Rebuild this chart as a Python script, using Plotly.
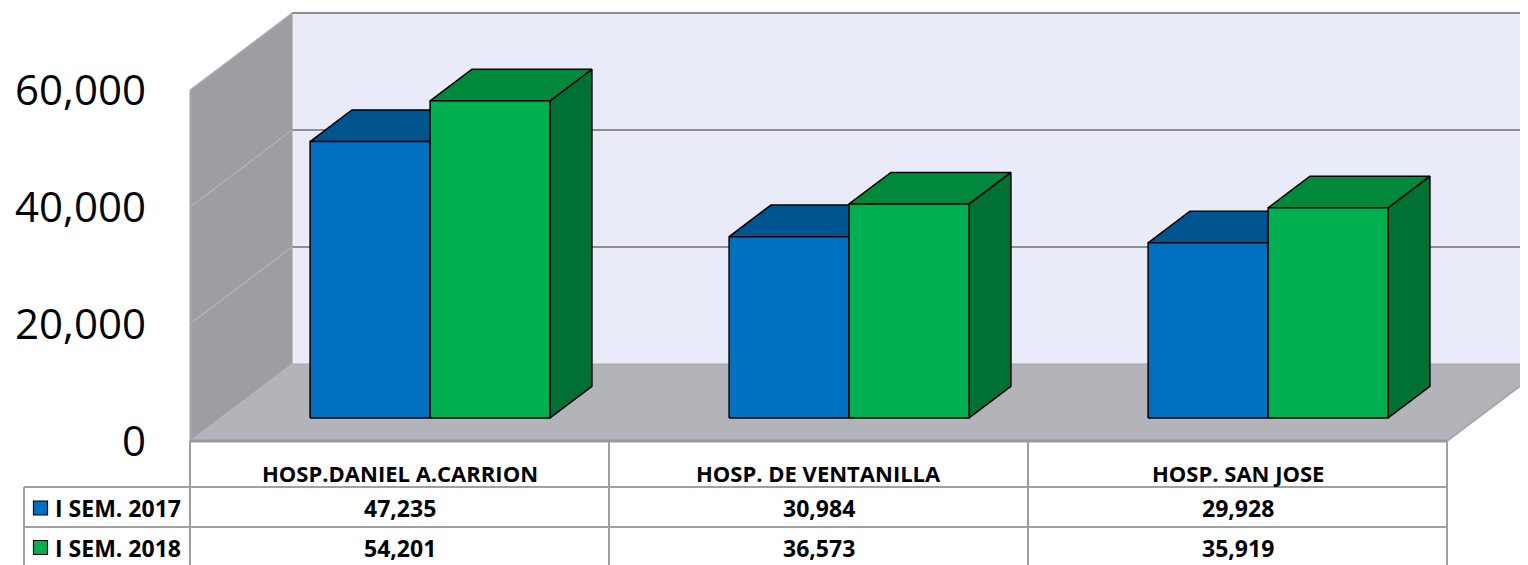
import plotly.graph_objects as go

# ---------------- data ----------------
categories = ["HOSP.DANIEL A.CARRION", "HOSP. DE VENTANILLA", "HOSP. SAN JOSE"]
series_names = ["I SEM. 2017", "I SEM. 2018"]
sem_2017 = [47235, 30984, 29928]
sem_2018 = [54201, 36573, 35919]
y_ticks = [0, 20000, 40000, 60000]

# ---------------- style / geometry ----------------
PAGE_OFF = 8              # default body margin of the html page
W, H = 1528 - PAGE_OFF, 565 - PAGE_OFF
PX_CAT = 419.0            # pixels per category on the front plane
PX_VAL = 351.0 / 60000.0  # pixels per value unit
REF_X0, REF_Y0 = 190.0, 441.0          # front-plane origin in screen pixels
X0_PX, Y0_PX = REF_X0 - PAGE_OFF, REF_Y0 - PAGE_OFF
DX = 102.0 / PX_CAT       # depth offset (x, in category units)
DY = 77.0 / PX_VAL        # depth offset (y, in value units)
Y_MAX = y_ticks[-1]
T_FRONT, T_BACK = 0.30, 0.71
BAR_OFF, BAR_W = 0.2136, 0.2864

x_range = [-X0_PX / PX_CAT, (W - X0_PX) / PX_CAT]
y_range = [(Y0_PX - H) / PX_VAL, Y0_PX / PX_VAL]


def sx(px):   # screen pixel -> x data
    return (px - REF_X0) / PX_CAT


def sy(py):   # screen pixel -> y data
    return (REF_Y0 - py) / PX_VAL


series_vals = [sem_2017, sem_2018]
front_col = ["#0070C0", "#00B050"]
top_col = ["#00558F", "#00883C"]
side_col = ["#004A80", "#007133"]

WALL_BACK = "#E9ECF8"
WALL_LEFT = "#9C9EA2"
FLOOR = "#B2B4B9"
EDGE = "#8E8E8E"
TABLE_LINE = "#A0A0A0"
FONT = "Open Sans"


def P(x, y, t):
    return (x + t * DX, y + t * DY)


fig = go.Figure()


def poly(pts, fill, line_color, lw):
    xs = [p[0] for p in pts] + [pts[0][0]]
    ys = [p[1] for p in pts] + [pts[0][1]]
    fig.add_trace(go.Scatter(x=xs, y=ys, mode="lines", fill="toself", fillcolor=fill,
                             line=dict(color=line_color, width=lw),
                             hoverinfo="skip", showlegend=False))


def seg(pts, color, lw):
    fig.add_trace(go.Scatter(x=[p[0] for p in pts], y=[p[1] for p in pts], mode="lines",
                             line=dict(color=color, width=lw),
                             hoverinfo="skip", showlegend=False))


n = len(categories)
# back wall
poly([P(0, 0, 1), P(n, 0, 1), P(n, Y_MAX, 1), P(0, Y_MAX, 1)], WALL_BACK, WALL_BACK, 0.1)
# left wall
poly([P(0, 0, 0), P(0, Y_MAX, 0), P(0, Y_MAX, 1), P(0, 0, 1)], WALL_LEFT, WALL_LEFT, 0.1)
# floor
poly([P(0, 0, 0), P(n, 0, 0), P(n, 0, 1), P(0, 0, 1)], FLOOR, FLOOR, 0.1)

# gridlines
for v in y_ticks[1:]:
    seg([P(0, v, 0), P(0, v, 1)], "#B3B4B8", 1.2)
    seg([P(0, v, 1), P(n, v, 1)], EDGE, 2)
seg([P(0, 0, 1), P(n, 0, 1)], "#A9AAAE", 1.2)
seg([P(0, 0, 0), P(0, 0, 1)], "#B3B4B8", 1.2)
seg([P(0, 0, 1), P(0, Y_MAX, 1)], "#A0A2A6", 1)
seg([P(0, 0, 0), P(0, Y_MAX, 0)], "#B0B0B0", 1.2)
# floor edges
seg([P(0, 0, 0), P(n, 0, 0)], "#9A9A9A", 3)
seg([P(n, 0, 0), P(n, 0, 1)], "#A6A6A6", 2)

# bars
for i in range(n):
    for s, vals in enumerate(series_vals):
        v = vals[i]
        xl = i + BAR_OFF + s * BAR_W
        xr = xl + BAR_W
        poly([P(xr, 0, T_FRONT), P(xr, 0, T_BACK), P(xr, v, T_BACK), P(xr, v, T_FRONT)],
             side_col[s], "#000000", 1.5)
        poly([P(xl, v, T_FRONT), P(xr, v, T_FRONT), P(xr, v, T_BACK), P(xl, v, T_BACK)],
             top_col[s], "#000000", 1.5)
        poly([P(xl, 0, T_FRONT), P(xr, 0, T_FRONT), P(xr, v, T_FRONT), P(xl, v, T_FRONT)],
             front_col[s], "#000000", 1.5)

# ---------------- data table ----------------
row_edges = [0, sy(487), sy(527), y_range[0]]
row_centers = [sy(472.5), sy(508), sy(547.5)]
x_left = sx(24)

for c in range(n + 1):
    seg([(c, 0), (c, y_range[0])], TABLE_LINE, 2)
seg([(x_left, row_edges[1]), (x_left, y_range[0])], TABLE_LINE, 2)
for r in (1, 2):
    seg([(x_left, row_edges[r]), (n, row_edges[r])], TABLE_LINE, 2)

head_font = dict(family=FONT, size=22, color="#000000", weight="bold")
num_font = dict(family=FONT, size=23, color="#000000", weight="bold")


def cell(x, y, text, font, anchor="center"):
    return dict(x=x, y=y, xref="x", yref="y", text=text, showarrow=False,
                xanchor=anchor, yanchor="middle", font=font)


annotations = [cell(i + 0.5, row_centers[0], categories[i], head_font) for i in range(n)]
for s, vals in enumerate(series_vals):
    annotations += [cell(i + 0.5, row_centers[s + 1], f"{v:,}", num_font)
                    for i, v in enumerate(vals)]
    fig.add_trace(go.Scatter(x=[sx(40.5)], y=[row_centers[s + 1]], mode="markers",
                             marker=dict(symbol="square", size=14, color=front_col[s],
                                         line=dict(color="#000000", width=1.2)),
                             hoverinfo="skip", showlegend=False))
    annotations.append(cell(sx(53), row_centers[s + 1], series_names[s], num_font, "left"))

fig.update_layout(
    width=W, height=H,
    margin=dict(l=0, r=0, t=0, b=0),
    paper_bgcolor="#FFFFFF", plot_bgcolor="#FFFFFF",
    showlegend=False,
    annotations=annotations,
    xaxis=dict(range=x_range, visible=False, fixedrange=True),
    yaxis=dict(range=y_range, anchor="free", position=X0_PX / W, side="left",
               tickvals=y_ticks, tickformat=",", showgrid=False, zeroline=False,
               showline=False, ticks="", ticklabelstandoff=44,
               tickfont=dict(family=FONT, size=42, color="#000000"),
               automargin=False, fixedrange=True),
)

fig.write_html("out.html")
